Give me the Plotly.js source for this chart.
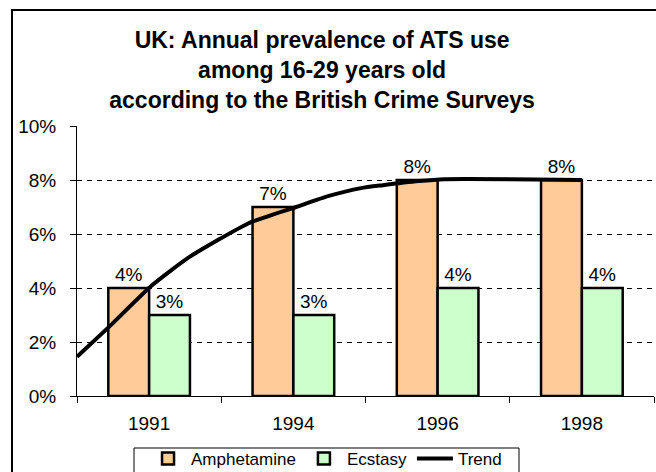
<!DOCTYPE html>
<html><head><meta charset="utf-8">
<script src="https://cdn.plot.ly/plotly-3.0.1.min.js"></script>
<style>html,body{margin:0;padding:0;background:#fff;}#chart{width:656px;height:472px;}</style>
</head><body><div id="chart"></div>
<script>
var years = ['1991', '1994', '1996', '1998'];
var amphetamine = [4, 7, 8, 8];
var ecstasy = [3, 3, 4, 4];
// trend line, x in category-index units (-0.5 = left edge), y in percent
var trendX = [-0.5, -0.28, 0.02, 0.28, 0.69, 1.02, 1.24, 1.47, 1.61, 1.87, 2.05, 2.5, 3.0];
var trendY = [1.45, 2.55, 4.1, 5.15, 6.4, 7.0, 7.4, 7.7, 7.8, 7.96, 8.03, 8.03, 8.0];
var yTicks = [0, 2, 4, 6, 8, 10];

var FONT = 'Arial, "Liberation Sans", sans-serif';

var traces = [
  {type: 'bar', name: 'Amphetamine', x: years, y: amphetamine,
   marker: {color: '#FFCC99', line: {color: '#000', width: 2.5}},
   text: amphetamine.map(function(v){return v + '%';}), textposition: 'outside',
   textfont: {family: FONT, size: 19, color: '#000'}, cliponaxis: false, hoverinfo: 'skip'},
  {type: 'bar', name: 'Ecstasy', x: years, y: ecstasy,
   marker: {color: '#CCFFCC', line: {color: '#000', width: 2.5}},
   text: ecstasy.map(function(v){return v + '%';}), textposition: 'outside',
   textfont: {family: FONT, size: 19, color: '#000'}, cliponaxis: false, hoverinfo: 'skip'},
  {type: 'scatter', mode: 'lines', name: 'Trend', x: trendX, y: trendY, xaxis: 'x2',
   line: {color: '#000', width: 4, shape: 'spline', smoothing: 0.5}, hoverinfo: 'skip'}
];

var layout = {
  width: 656, height: 472,
  margin: {l: 77, r: 2, t: 126, b: 76},
  paper_bgcolor: '#fff', plot_bgcolor: '#fff',
  font: {family: FONT, size: 19, color: '#000'},
  title: {text: '<b>UK: Annual prevalence of ATS use<br>among 16-29 years old<br>according to the British Crime Surveys</b>',
          font: {family: FONT, size: 23, color: '#000'},
          xref: 'container', x: 0.491, xanchor: 'center', yref: 'container', y: 1 - 48/472, yanchor: 'top'},
  barmode: 'group', bargap: 0.434, bargroupgap: 0,
  showlegend: true,
  legend: {orientation: 'h', xref: 'container', yref: 'container', x: 0.497, xanchor: 'center',
           y: 1 - 441/472, yanchor: 'top', borderwidth: 0, bgcolor: 'rgba(0,0,0,0)',
           font: {family: FONT, size: 17, color: '#000'}, itemwidth: 36, tracegroupgap: 0},
  xaxis: {type: 'category', range: [-0.5, 3.5], showline: true, linecolor: '#000', linewidth: 1,
          ticks: 'outside', tickson: 'boundaries', ticklen: 6, tickcolor: '#000',
          showgrid: false, zeroline: false, ticklabelstandoff: 10, fixedrange: true},
  xaxis2: {overlaying: 'x', range: [-0.5, 3.5], visible: false, fixedrange: true},
  yaxis: {range: [0, 10], tickvals: yTicks, ticktext: yTicks.map(function(v){return v + '%';}),
          showline: true, linecolor: '#000', linewidth: 1, ticks: 'outside', ticklen: 6, tickcolor: '#000',
          showgrid: true, gridcolor: '#000', gridwidth: 1, griddash: '5px,5px', zeroline: false,
          ticklabelstandoff: 10, fixedrange: true},
  shapes: [
    {type: 'rect', xref: 'paper', yref: 'paper', x0: (12-77)/577, x1: 1.2, y0: -0.6, y1: (396-10)/270,
     line: {color: '#000', width: 2}, layer: 'below'},
    {type: 'rect', xref: 'paper', yref: 'paper', x0: (134-77)/577, x1: (519-77)/577, y0: -0.5, y1: (396-448)/270,
     line: {color: '#000', width: 1}, fillcolor: 'rgba(0,0,0,0)', layer: 'above'}
  ]
};

Plotly.newPlot('chart', traces, layout, {displayModeBar: false, staticPlot: true});
</script>
</body></html>
